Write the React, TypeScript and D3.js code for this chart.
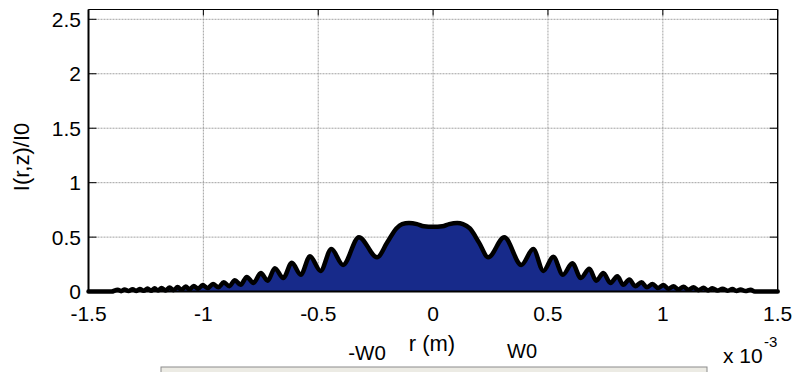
import React from "react";
import * as d3 from "d3";

// r in units of 1e-3 m, intensity I(r,z)/I0 (peaks and troughs)
const rValues: number[] = [
  -1.5, -1.4, -1.373, -1.358, -1.343, -1.326, -1.308, -1.293, -1.277, -1.26, -1.243, -1.228,
  -1.212, -1.197, -1.182, -1.165, -1.147, -1.13, -1.112, -1.095, -1.077, -1.06, -1.042, -1.023,
  -1.003, -0.981, -0.958, -0.935, -0.911, -0.887, -0.863, -0.838, -0.811, -0.782, -0.75, -0.72,
  -0.689, -0.652, -0.615, -0.576, -0.536, -0.49, -0.443, -0.392, -0.323, -0.244, -0.2, -0.16,
  -0.135, -0.105, -0.07, -0.04, 0,
  0.04, 0.07, 0.105, 0.13, 0.16, 0.2, 0.24, 0.31, 0.384, 0.436, 0.48, 0.523, 0.565, 0.606,
  0.643, 0.68, 0.71, 0.741, 0.772, 0.802, 0.828, 0.854, 0.88, 0.907, 0.931, 0.955, 0.979,
  1.003, 1.025, 1.046, 1.068, 1.09, 1.112, 1.133, 1.155, 1.177, 1.197, 1.216, 1.238, 1.26,
  1.282, 1.303, 1.32, 1.338, 1.36, 1.382, 1.4, 1.5,
];
const intensity: number[] = [
  0, 0, 0.018, 0.004, 0.02, 0.005, 0.022, 0.006, 0.025, 0.007, 0.028, 0.008,
  0.03, 0.009, 0.034, 0.011, 0.038, 0.013, 0.042, 0.016, 0.047, 0.02, 0.052, 0.026,
  0.06, 0.032, 0.07, 0.04, 0.085, 0.05, 0.105, 0.062, 0.135, 0.08, 0.17, 0.1,
  0.215, 0.125, 0.265, 0.155, 0.325, 0.19, 0.39, 0.245, 0.5, 0.315, 0.45, 0.58,
  0.62, 0.63, 0.62, 0.6, 0.595,
  0.6, 0.62, 0.63, 0.62, 0.58, 0.45, 0.315, 0.5, 0.245, 0.39, 0.19, 0.32, 0.155, 0.26,
  0.125, 0.21, 0.1, 0.17, 0.08, 0.14, 0.062, 0.11, 0.05, 0.085, 0.04, 0.07, 0.032,
  0.06, 0.026, 0.05, 0.02, 0.045, 0.016, 0.04, 0.013, 0.035, 0.011, 0.03, 0.009, 0.027,
  0.008, 0.024, 0.006, 0.02, 0.005, 0.018, 0, 0,
];

const xTicks: number[] = [-1.5, -1, -0.5, 0, 0.5, 1, 1.5];
const xTickLabels: string[] = ["-1.5", "-1", "-0.5", "0", "0.5", "1", "1.5"];
const yTicks: number[] = [0, 0.5, 1, 1.5, 2, 2.5];
const yTickLabels: string[] = ["0", "0.5", "1", "1.5", "2", "2.5"];

const W = 801;
const H = 372;
const left = 88.5;
const right = 777.7;
const top = 9.5;
const bottom = 291.6;

export default function App() {
  const x = d3.scaleLinear().domain([-1.5, 1.5]).range([left, right]);
  const y = d3.scaleLinear().domain([0, 2.59]).range([bottom, top]);
  const pts = rValues.map((r, i) => [r, intensity[i]] as [number, number]);
  const area = d3
    .area<[number, number]>()
    .x((d) => x(d[0]))
    .y0(y(0))
    .y1((d) => y(d[1]))
    .curve(d3.curveMonotoneX);
  const line = d3
    .line<[number, number]>()
    .x((d) => x(d[0]))
    .y((d) => y(d[1]))
    .curve(d3.curveMonotoneX);
  const font = "'Liberation Sans', Arial, sans-serif";
  return (
    <svg
      width={W}
      height={H}
      style={{ position: "fixed", left: 0, top: 0, background: "#fff" }}
      fontFamily={font}
    >
      <rect x={0} y={0} width={W} height={H} fill="#fff" />
      {/* grid */}
      {xTicks.slice(1, -1).map((t) => (
        <line key={"gx" + t} x1={x(t)} x2={x(t)} y1={top} y2={bottom} stroke="#8a8a8a" strokeWidth={0.8} strokeDasharray="2,1" />
      ))}
      {yTicks.slice(1).map((t) => (
        <line key={"gy" + t} x1={left} x2={right} y1={y(t)} y2={y(t)} stroke="#8a8a8a" strokeWidth={0.8} strokeDasharray="2,1" />
      ))}
      {/* data */}
      <path d={area(pts) || ""} fill="#172a8a" />
      <path d={line(pts) || ""} fill="none" stroke="#000" strokeWidth={4.5} strokeLinejoin="round" strokeLinecap="round" />
      {/* axes box */}
      <line x1={left} x2={right} y1={top} y2={top} stroke="#000" strokeWidth={1.2} />
      <line x1={right} x2={right} y1={top} y2={bottom} stroke="#000" strokeWidth={1.4} />
      <line x1={left} x2={left} y1={top} y2={bottom + 1} stroke="#000" strokeWidth={2} />
      <line x1={left} x2={right} y1={bottom} y2={bottom} stroke="#000" strokeWidth={2} />
      {/* ticks */}
      {yTicks.map((t) => (
        <g key={"ty" + t}>
          <line x1={left} x2={left + 8} y1={y(t)} y2={y(t)} stroke="#000" strokeWidth={1} />
          <line x1={right - 8} x2={right} y1={y(t)} y2={y(t)} stroke="#000" strokeWidth={1} />
        </g>
      ))}
      {xTicks.map((t) => (
        <line key={"tx" + t} x1={x(t)} x2={x(t)} y1={top} y2={top + 6} stroke="#000" strokeWidth={1} />
      ))}
      {/* tick labels */}
      {xTicks.map((t, i) => (
        <text key={"lx" + t} x={x(t)} y={321} textAnchor="middle" fontSize={21} fill="#000">
          {xTickLabels[i]}
        </text>
      ))}
      {yTicks.map((t, i) => (
        <text key={"ly" + t} x={81} y={y(t) + 7.5} textAnchor="end" fontSize={21} fill="#000">
          {yTickLabels[i]}
        </text>
      ))}
      {/* axis labels */}
      <text x={0} y={0} transform="translate(29,157) rotate(-90)" textAnchor="middle" fontSize={22} fill="#000">
        I(r,z)/I0
      </text>
      <text x={432} y={351} textAnchor="middle" fontSize={22} fill="#000">
        r (m)
      </text>
      <text x={367} y={360} textAnchor="middle" fontSize={20.5} fill="#000">
        -W0
      </text>
      <text x={522} y={358} textAnchor="middle" fontSize={20} fill="#000">
        W0
      </text>
      <text x={723} y={363} fontSize={21} fill="#000">
        x 10
      </text>
      <text x={764} y={347} fontSize={15} fill="#000">
        -3
      </text>
      {/* gray panel */}
      <rect x={161} y={367} width={546} height={12} fill="#ecebe4" stroke="#8c8c8c" strokeWidth={1} />
    </svg>
  );
}
